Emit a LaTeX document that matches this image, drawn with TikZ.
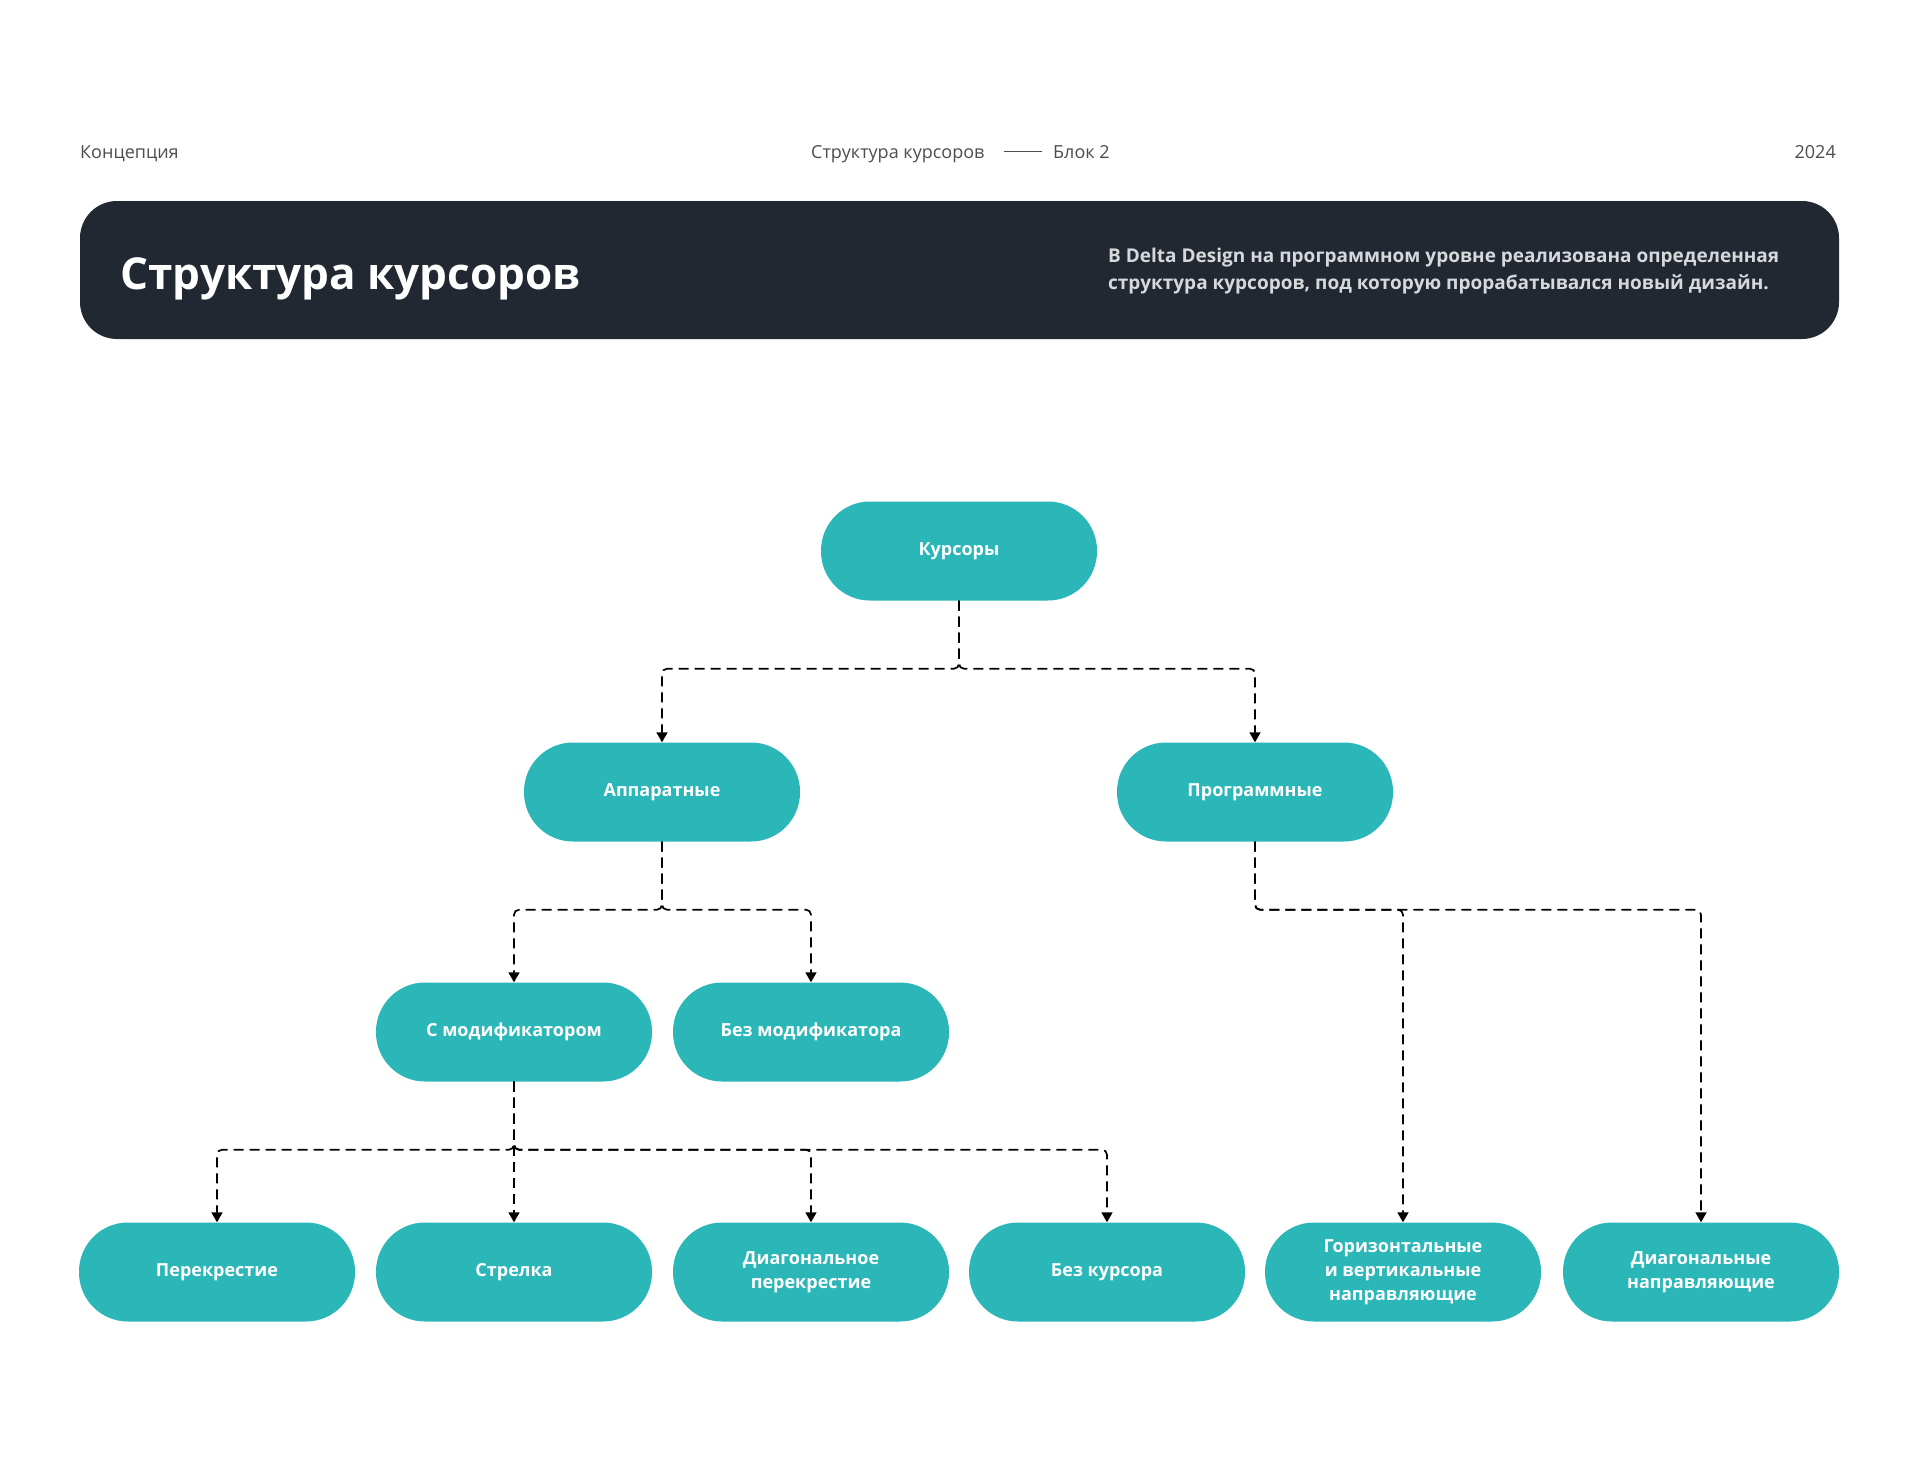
\documentclass[tikz,border=0pt]{standalone}
\usepackage{fontspec}
\setmainfont{Open Sans}
\usetikzlibrary{arrows.meta,positioning}
\definecolor{tealbox}{HTML}{2BB6B7}
\definecolor{darkband}{HTML}{222831}
\definecolor{headgray}{HTML}{4D4D4D}
\definecolor{desctext}{HTML}{D6D8DB}
\tikzset{
	cursor/.style={fill=tealbox, rounded corners=49pt, minimum width=276pt,
		minimum height=99pt, inner sep=0pt, text=white, align=center,
		font=\fontsize{18}{24}\selectfont\bfseries},
	link/.style={draw=black, line width=1.7pt, dash pattern=on 10pt off 6pt,
		rounded corners=5pt, -{Triangle[width=11pt,length=10pt]}},
	headtext/.style={text=headgray, inner sep=0pt, font=\fontsize{18}{22}\selectfont}
}

\begin{document}
\begin{tikzpicture}[x=1pt,y=-1pt]
	\useasboundingbox (0,0) rectangle (1920,1462);
	
	% Header line
	\node[headtext, anchor=base west] (concept) at (80,158) {Концепция};
	\node[headtext, anchor=base west] (section) at (811,158) {Структура курсоров};
	\node[headtext, anchor=base west] (block) at (1053,158) {Блок 2};
	\node[headtext, anchor=base east] (year) at (1836,158) {2024};
	\draw[headgray, line width=1pt] (1004,151) -- (1042,151);
	
	% Title band
	\fill[darkband, rounded corners=37pt] (80,201) rectangle (1839,339);
	\node[text=white, inner sep=0pt, anchor=base west,
		font=\fontsize{44}{56}\selectfont\bfseries] (title) at (120,289) {Структура курсоров};
	\node[text=desctext, inner sep=0pt, anchor=base west, align=left,
		font=\fontsize{19}{27}\selectfont\bfseries] (desc) at (1108,289)
		{В Delta Design на программном уровне реализована определенная\\
		 структура курсоров, под которую прорабатывался новый дизайн.};
	
	% Tree
	\node[cursor] (root) at (959,551) {Курсоры};
	\node[cursor] (hw) at (662,792) {Аппаратные};
	\node[cursor] (sw) at (1255,792) {Программные};
	\node[cursor] (mod) at (514,1032) {С модификатором};
	\node[cursor] (nomod) at (811,1032) {Без модификатора};
	\node[cursor] (cross) at (217,1272) {Перекрестие};
	\node[cursor] (arrowc) at (514,1272) {Стрелка};
	\node[cursor] (diagcross) at (811,1272) {Диагональное\\перекрестие};
	\node[cursor] (nocur) at (1107,1272) {Без курсора};
	\node[cursor] (hvguide) at (1403,1272) {Горизонтальные\\и вертикальные\\направляющие};
	\node[cursor] (diagguide) at (1701,1272) {Диагональные\\направляющие};
	
	% Connectors
	\foreach \p/\c in {root/hw, root/sw, hw/mod, hw/nomod, mod/cross,
		mod/diagcross, mod/nocur, sw/hvguide, sw/diagguide}
		\draw[link] (\p.south) -- ++(0,68) -| (\c.north);
	\draw[link] (mod.south) -- (arrowc.north);
	
\end{tikzpicture}
\end{document}
